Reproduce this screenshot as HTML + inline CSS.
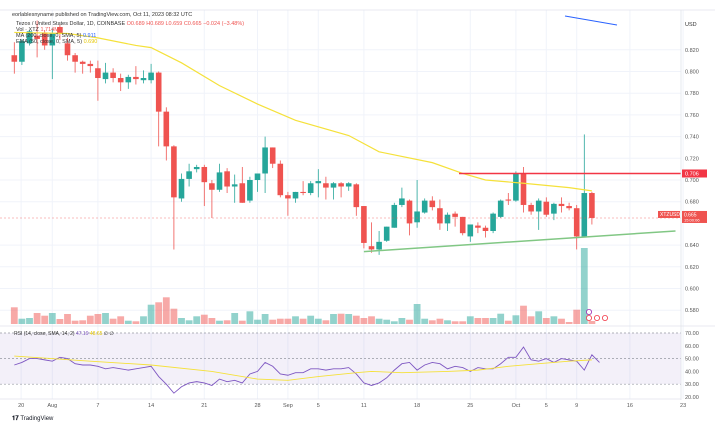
<!DOCTYPE html>
<html><head><meta charset="utf-8">
<style>
body{margin:0;background:#fff;font-family:"Liberation Sans",sans-serif;}
svg text{font-family:"Liberation Sans",sans-serif;}
</style></head>
<body>
<svg id="c" width="715" height="431" xmlns="http://www.w3.org/2000/svg">
<rect width="715" height="431" fill="#fff"/>
<g id="grid"></g>
<rect x="0" y="333" width="681" height="51" fill="#7e57c2" fill-opacity="0.09"/>
<g id="vol"></g>
<g id="candles"></g>
<g id="over"></g>
<g id="rsi"></g>
<g id="axes"></g>
<text x="12" y="16" font-size="5.5" fill="#333">eorlablesnyname published on TradingView.com, Oct 11, 2023 08:32 UTC</text>
<text x="16" y="25" font-size="5.5" fill="#333">Tezos / United States Dollar, 1D, COINBASE <tspan fill="#ef5350">O0.689 H0.689 L0.659 C0.665 −0.024 (−3.48%)</tspan></text>
<text x="16" y="31" font-size="5.5" fill="#333">Vol · XTZ <tspan fill="#ef5350">1.714M</tspan></text>
<text x="16" y="37" font-size="5.5" fill="#333">MA (200, close, 0, SMA, 5) <tspan fill="#2962ff">0.911</tspan></text>
<text x="16" y="43" font-size="5.5" fill="#333">EMA (50, close, 0, SMA, 5) <tspan fill="#e6c800">0.690</tspan></text>
<text x="14" y="335" font-size="5" fill="#333">RSI (14, close, SMA, 14, 2) <tspan fill="#7e57c2">47.19</tspan> <tspan fill="#e6c800">48.65</tspan> ∅ ∅</text>
<text x="12" y="420" font-size="6" font-weight="bold" fill="#131722">𝟏𝟕 <tspan font-weight="normal">TradingView</tspan></text>
</svg>
<script>
const dates=["Jul27","Jul28","Jul29","Jul30","Jul31","Aug1","Aug2","Aug3","Aug4","Aug5","Aug6","Aug7","Aug8","Aug9","Aug10","Aug11","Aug12","Aug13","Aug14","Aug15","Aug16","Aug17","Aug18","Aug19","Aug20","Aug21","Aug22","Aug23","Aug24","Aug25","Aug26","Aug27","Aug28","Aug29","Aug30","Aug31","Sep1","Sep2","Sep3","Sep4","Sep5","Sep6","Sep7","Sep8","Sep9","Sep10","Sep11","Sep12","Sep13","Sep14","Sep15","Sep16","Sep17","Sep18","Sep19","Sep20","Sep21","Sep22","Sep23","Sep24","Sep25","Sep26","Sep27","Sep28","Sep29","Sep30","Oct1","Oct2","Oct3","Oct4","Oct5","Oct6","Oct7","Oct8","Oct9","Oct10","Oct11"];
const open=[.815,.809,.826,.833,.836,.824,.841,.826,.815,.809,.807,.803,.793,.799,.794,.790,.795,.792,.792,.799,.763,.731,.683,.701,.710,.712,.697,.691,.708,.694,.697,.681,.700,.706,.730,.715,.686,.683,.689,.688,.697,.697,.693,.697,.694,.696,.676,.639,.636,.644,.656,.677,.681,.661,.670,.681,.674,.660,.669,.666,.648,.658,.656,.653,.666,.682,.681,.706,.677,.671,.680,.669,.678,.676,.674,.648,.688];
const high=[.827,.830,.838,.847,.838,.840,.843,.831,.817,.810,.810,.810,.808,.803,.798,.797,.805,.801,.807,.800,.767,.732,.706,.715,.714,.714,.700,.715,.711,.705,.712,.703,.706,.740,.730,.718,.689,.689,.699,.699,.710,.703,.698,.698,.698,.697,.676,.661,.653,.657,.679,.693,.682,.700,.683,.685,.682,.670,.671,.666,.659,.661,.658,.670,.682,.688,.708,.712,.679,.683,.684,.679,.684,.679,.677,.742,.689];
const low=[.798,.806,.824,.813,.820,.793,.829,.810,.799,.798,.799,.773,.789,.790,.782,.784,.788,.789,.789,.731,.718,.636,.680,.694,.707,.676,.665,.689,.688,.679,.679,.679,.689,.688,.711,.684,.667,.679,.686,.686,.684,.682,.682,.684,.690,.667,.637,.633,.631,.643,.656,.675,.649,.656,.669,.672,.654,.653,.657,.649,.643,.651,.647,.651,.665,.677,.680,.670,.668,.654,.666,.663,.670,.672,.636,.648,.659];
const close=[.809,.828,.837,.830,.824,.835,.835,.815,.809,.807,.805,.794,.799,.794,.790,.795,.793,.794,.799,.763,.731,.684,.701,.708,.712,.698,.691,.707,.694,.696,.679,.700,.706,.730,.715,.686,.683,.689,.688,.697,.699,.693,.697,.694,.697,.675,.642,.636,.643,.657,.677,.683,.660,.671,.681,.675,.660,.668,.666,.651,.659,.656,.653,.669,.681,.681,.706,.677,.671,.681,.668,.678,.676,.674,.648,.688,.665];
const volume=[16.7,5.3,6,11,8.3,11,5,10,3.3,3.7,8.3,10,11,5.3,7.7,3.3,2.7,7.7,19.3,21.7,26.7,15.3,6,3.7,7.7,9.3,6,3.3,3.7,11,3.3,12.7,4.3,10,4.3,5.3,5.3,7.7,5.3,8.3,5.3,3.7,10,10.3,10,8.3,6,7.7,5.3,4.3,2.7,6,4.3,20,5.3,3.7,5.3,3.7,2.7,2.7,7.7,6,6,6,10.3,3.3,8.7,18.3,7.7,12.7,6,7.7,5.3,2,14.3,76,3];
const rsiVals=[45,47,50,50,49,48,51,50,46,45,45,44,42,43,42,41,42,43,44,36,30,23,28,31,32,31,29,34,32,33,31,38,40,47,44,38,37,39,39,42,42,41,42,42,43,38,31,29,31,35,41,46,47,41,45,47,46,42,44,43,40,43,42,42,46,51,51,59,49,48,50,47,50,49,48,41,53,47];
const rsiMaIdx=[0,10,18,26,32,36,40,45,47,51,57,61,65,69,73,76];
const rsiMaVal=[52,48,45,40,34,33,36,39,40,39,40,41,44,46,48,49];
const emaIdx=[0,7,11,16,18,22,27,32,37,44,48,55,59,62,67,73,76];
const emaVal=[.836,.835,.831,.824,.822,.808,.787,.770,.755,.741,.726,.716,.706,.700,.697,.693,.690];
const priceTicks=[0.82,0.80,0.78,0.76,0.74,0.72,0.70,0.68,0.64,0.62,0.60,0.58];
const rsiTicks=[70,60,50,40,30,20];
const dateTickIdx=[0.9,5,11,18,25,32,36,40,46,53,60,66,70,74,81,88];
const dateTickLbl=["20","Aug","7","14","21","28","Sep","5","11","18","25","Oct","5","9","16","23"];
const resistance=0.706, supportStart=[46,0.634], supportEnd=[87,0.653];

const NS="http://www.w3.org/2000/svg";
const X=i=>14.3+i*7.6;
const Y=p=>180+(0.7-p)*1085;
const VY=v=>324-v;
const RY=r=>333+(70-r)*1.28;
function mk(parent,tag,attrs){const e=document.createElementNS(NS,tag);for(const k in attrs)e.setAttribute(k,attrs[k]);document.getElementById(parent).appendChild(e);return e;}
const G="#26a69a",R="#ef5350";
// grid
priceTicks.forEach(p=>{const l=mk('grid','line',{x1:0,x2:681,y1:Y(p),y2:Y(p),stroke:'#f0f3fa','stroke-width':1});

});
dateTickIdx.forEach(i=>{const l=mk('grid','line',{x1:X(i),x2:X(i),y1:10,y2:399,stroke:'#f0f3fa','stroke-width':1});

});
// volume
volume.forEach((v,i)=>{const up=close[i]>=open[i];const r=mk('vol','rect',{x:X(i)-3.4,y:VY(v),width:6.8,height:v,fill:up?'rgba(38,166,154,0.5)':'rgba(239,83,80,0.5)'});

});
// close price dashed line
const cl=mk('over','line',{x1:0,x2:681,y1:Y(close[close.length-1]),y2:Y(close[close.length-1]),stroke:'#ef5350','stroke-opacity':0.5,'stroke-dasharray':'2,2','stroke-width':0.8});


// candles
open.forEach((o,i)=>{const c=close[i],up=c>=o,col=up?G:R,x=X(i);
const w=mk('candles','line',{x1:x,x2:x,y1:Y(high[i]),y2:Y(low[i]),stroke:col,'stroke-width':0.8});


const top=Y(Math.max(o,c)),h=Math.max(1,Math.abs(Y(o)-Y(c)));
const b=mk('candles','rect',{x:x-2.8,y:top,width:5.6,height:h,fill:col});

});
// EMA
let d=emaIdx.map((i,k)=>(k?'L':'M')+X(i)+' '+Y(emaVal[k])).join(' ');
const ema=mk('over','path',{d:d,fill:'none',stroke:'#f5e13a','stroke-width':1.2});


// MA200 segment top right
const ma=mk('over','line',{x1:565,y1:16,x2:617,y2:25,stroke:'#2962ff','stroke-width':1});


// resistance
const rl=mk('over','line',{x1:459,x2:681,y1:Y(resistance),y2:Y(resistance),stroke:'#f23645','stroke-width':1.5});


const sl=mk('over','line',{x1:X(supportStart[0]),y1:Y(supportStart[1]),x2:X(supportEnd[0]),y2:Y(supportEnd[1]),stroke:'#81c784','stroke-width':1.5});


// markers
[[589,312,'#9c27b0'],[589,318,'#f23645'],[597,318,'#f23645'],[605,318,'#f23645']].forEach(m=>{const c=mk('over','circle',{cx:m[0],cy:m[1],r:2.6,fill:'#fff',stroke:m[2],'stroke-width':0.8});

});
// RSI
[70,50,30].forEach(v=>{const l=mk('rsi','line',{x1:0,x2:681,y1:RY(v),y2:RY(v),stroke:'#9598a1','stroke-dasharray':'2,2','stroke-width':0.7});

});
const rp=mk('rsi','path',{d:rsiVals.map((v,i)=>(i?'L':'M')+X(i)+' '+RY(v)).join(' '),fill:'none',stroke:'#7e57c2','stroke-width':0.9});


const rm=mk('rsi','path',{d:rsiMaIdx.map((i,k)=>(k?'L':'M')+X(i)+' '+RY(rsiMaVal[k])).join(' '),fill:'none',stroke:'#f5e13a','stroke-width':0.9});


// axes
[[681,10,681,400],[0,326,715,326],[0,399,681,399],[0,10,715,10]].forEach(a=>{const l=mk('axes','line',{x1:a[0],y1:a[1],x2:a[2],y2:a[3],stroke:'#e0e3eb','stroke-width':0.8});

});
const usd=mk('axes','text',{x:685,y:26,'font-size':5.5,fill:'#333'});usd.textContent='USD';


priceTicks.forEach(p=>{const t=mk('axes','text',{x:685,y:Y(p)+2,'font-size':5.5,fill:'#555'});t.textContent=p.toFixed(3);

});
rsiTicks.forEach(v=>{const t=mk('axes','text',{x:685,y:RY(v)+2,'font-size':5.5,fill:'#555'});t.textContent=v.toFixed(2);

});
dateTickIdx.forEach((i,k)=>{const t=mk('axes','text',{x:X(i),y:407,'font-size':5.5,fill:'#555','text-anchor':'middle'});t.textContent=dateTickLbl[k];

});
// price labels
const r1=mk('axes','rect',{x:682,y:Y(resistance)-4,width:25,height:8,fill:'#f23645'});


const t1=mk('axes','text',{x:685,y:Y(resistance)+2,'font-size':5.5,fill:'#fff'});t1.textContent=resistance.toFixed(3);


const ly=Y(close[close.length-1]);
const r2=mk('axes','rect',{x:682,y:ly-7,width:25,height:12,fill:'#ef5350'});


const t2=mk('axes','text',{x:684,y:ly-1.5,'font-size':5,fill:'#fff'});t2.textContent=close[close.length-1].toFixed(3);


const t3=mk('axes','text',{x:684,y:ly+3.5,'font-size':4,fill:'#fff'});t3.textContent='15:00:06';


const r3=mk('axes','rect',{x:658,y:ly-7,width:22,height:7,fill:'#ef5350'});


const t4=mk('axes','text',{x:660,y:ly-2,'font-size':5,fill:'#fff'});t4.textContent='XTZUSD';


</script>
</body></html>
